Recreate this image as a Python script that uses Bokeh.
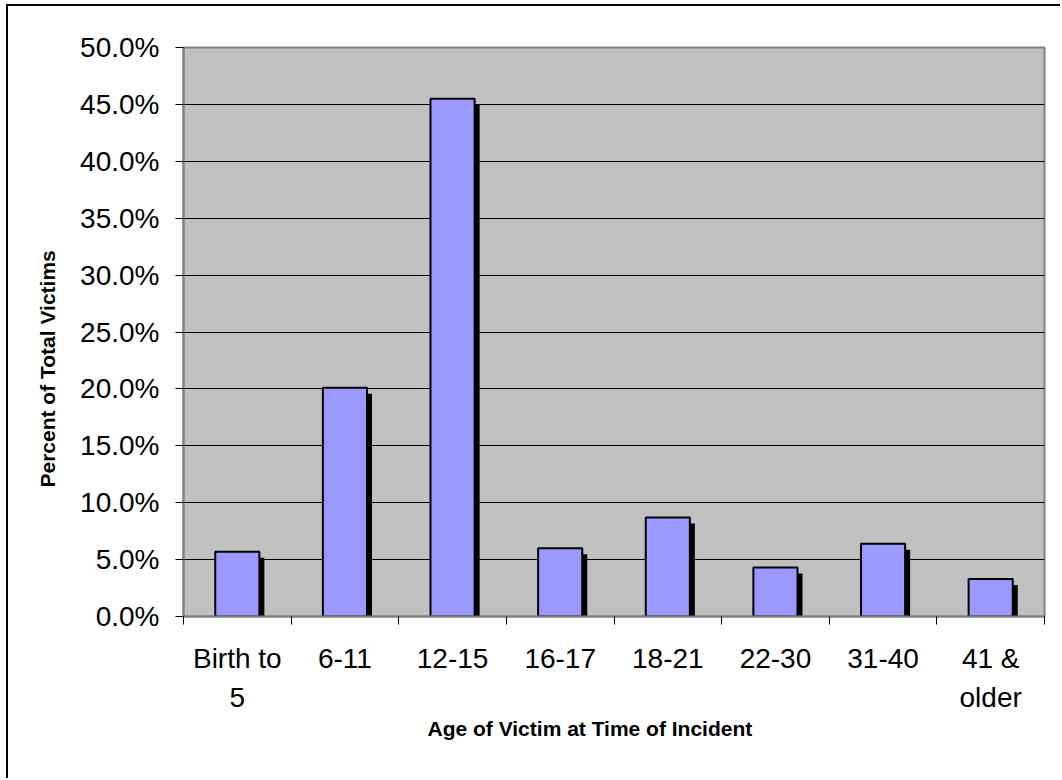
import numpy as np
from bokeh.plotting import figure
from bokeh.models import (ColumnDataSource, FixedTicker, PrintfTickFormatter,
                          Title, Range1d)
from bokeh.embed import file_html
from bokeh.resources import INLINE

# Share of victims by age at the time of the incident (percent)
age_groups = ["Birth to\n5", "6-11", "12-15", "16-17", "18-21", "22-30", "31-40", "41 &\nolder"]
percent_of_victims = [5.7, 20.1, 45.5, 6.0, 8.7, 4.3, 6.4, 3.3]
y_ticks = [0, 5, 10, 15, 20, 25, 30, 35, 40, 45, 50]

# the chart sits inside a page border drawn on its left and top edges
PAGE_W, PAGE_H = 1062, 780
MARGIN_X, MARGIN_Y = 6, 4
EDGE = 2
W, H = PAGE_W - MARGIN_X - EDGE, PAGE_H - MARGIN_Y - EDGE
OX, OY = MARGIN_X + EDGE, MARGIN_Y + EDGE

LEFT, RIGHT, TOP, BOTTOM = 183 - OX, 18, 47 - OY, 164
Y_MAX = 50
n = len(age_groups)

frame_w = W - LEFT - RIGHT
frame_h = H - TOP - BOTTOM
x_per_px = n / frame_w
y_per_px = Y_MAX / frame_h

centers = np.arange(n) + 0.5
values = np.array(percent_of_victims)
BAR_W = 0.41
SHADOW_DX, SHADOW_DY = 5, 6  # drop shadow offset in pixels

src = ColumnDataSource(dict(
    x=centers,
    top=values,
    sx=centers + SHADOW_DX * x_per_px,
    stop=values - SHADOW_DY * y_per_px,
))

p = figure(width=W, height=H, output_backend="svg", toolbar_location=None,
           x_range=Range1d(0, n), y_range=Range1d(0, Y_MAX),
           min_border_left=LEFT, min_border_right=RIGHT,
           min_border_top=TOP, min_border_bottom=BOTTOM)
p.styles = {
    "margin-left": f"{MARGIN_X}px",
    "margin-top": f"{MARGIN_Y}px",
    "border-left": f"{EDGE}px solid black",
    "border-top": f"{EDGE}px solid black",
}

p.background_fill_color = "#C0C0C0"
p.border_fill_color = "white"
p.outline_line_color = "#808080"
p.outline_line_width = 2

# shadows then bars
p.vbar(x="sx", top="stop", bottom=0, width=BAR_W, source=src,
       fill_color="black", line_color=None)
p.vbar(x="x", top="top", bottom=0, width=BAR_W, source=src,
       fill_color="#9999FF", line_color="black", line_width=2)

FONT = "Liberation Sans"

# x axis: labels under each group, ticks on group boundaries
xa = p.xaxis[0]
xa.ticker = FixedTicker(ticks=list(centers), minor_ticks=list(range(n + 1)))
xa.major_label_overrides = {float(c): g for c, g in zip(centers, age_groups)}
xa.major_tick_line_color = None
xa.major_tick_out = 0
xa.major_tick_in = 0
xa.minor_tick_line_color = "black"
xa.minor_tick_out = 8
xa.minor_tick_in = 0
xa.axis_line_color = "#808080"
xa.axis_line_width = 2
xa.major_label_text_font = FONT
xa.major_label_text_font_size = "28px"
xa.major_label_text_color = "black"
xa.major_label_text_line_height = 1.27
xa.major_label_standoff = 18

ya = p.yaxis[0]
ya.ticker = FixedTicker(ticks=y_ticks)
ya.formatter = PrintfTickFormatter(format="%.1f%%")
ya.minor_tick_line_color = None
ya.major_tick_line_color = "black"
ya.major_tick_out = 8
ya.major_tick_in = 0
ya.axis_line_color = "#808080"
ya.axis_line_width = 2
ya.major_label_text_font = FONT
ya.major_label_text_font_size = "28px"
ya.major_label_text_color = "black"
ya.major_label_standoff = 16

p.xgrid.grid_line_color = None
p.ygrid.grid_line_color = "black"
p.ygrid.grid_line_width = 1

# axis titles, placed from the start of the frame edge
p.add_layout(Title(text="Age of Victim at Time of Incident", align="left",
                   offset=244, standoff=-2,
                   text_font=FONT, text_font_size="21px", text_font_style="bold",
                   text_color="black"), "below")
p.add_layout(Title(text="Percent of Total Victims", align="left",
                   offset=129, standoff=38,
                   text_font=FONT, text_font_size="21px", text_font_style="bold",
                   text_color="black"), "left")

open("out.html", "w").write(file_html(p, INLINE))
